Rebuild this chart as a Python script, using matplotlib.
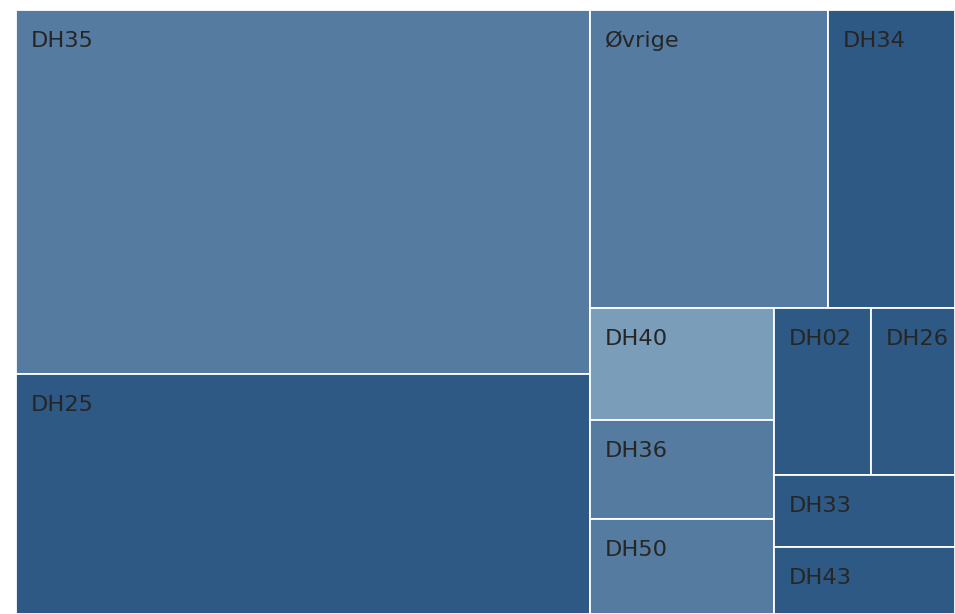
import matplotlib
matplotlib.use("Agg")
import matplotlib.pyplot as plt
from matplotlib.patches import Rectangle

# Data (relative areas)
labels = ["DH35", "DH25", "Øvrige", "DH34", "DH40", "DH36", "DH50",
          "DH02", "DH26", "DH33", "DH43"]
values = [209000, 137353, 70954, 37634, 20644, 18167, 17433,
          16248, 14154, 13068, 12070]
colors = ["#557ca0", "#2e5984", "#557ca0", "#2e5984", "#7a9db9", "#557ca0",
          "#557ca0", "#2e5984", "#2e5984", "#2e5984", "#2e5984"]

PHI = (1 + 5 ** 0.5) / 2


def squarify(vals, x0, y0, x1, y1, ratio=PHI):
    """d3-style squarified treemap; returns list of (x0, y0, x1, y1)."""
    rects = [None] * len(vals)
    order = sorted(range(len(vals)), key=lambda k: -vals[k])
    nodes = [vals[k] for k in order]
    value = float(sum(nodes))
    n = len(nodes)
    i0 = i1 = 0
    while i0 < n:
        dx, dy = x1 - x0, y1 - y0
        sum_v = nodes[i1]
        i1 += 1
        min_v = max_v = sum_v
        alpha = max(dy / dx, dx / dy) / (value * ratio)
        beta = sum_v * sum_v * alpha
        min_ratio = max(max_v / beta, beta / min_v)
        while i1 < n:
            nv = nodes[i1]
            sum_v += nv
            min_v = min(min_v, nv)
            max_v = max(max_v, nv)
            beta = sum_v * sum_v * alpha
            new_ratio = max(max_v / beta, beta / min_v)
            if new_ratio > min_ratio:
                sum_v -= nv
                break
            min_ratio = new_ratio
            i1 += 1
        row = list(range(i0, i1))
        if dx < dy:  # dice: horizontal row on top
            ny = y0 + dy * sum_v / value
            cx = x0
            for j in row:
                w = (x1 - x0) * nodes[j] / sum_v
                rects[order[j]] = (cx, y0, cx + w, ny)
                cx += w
            y0 = ny
        else:  # slice: vertical column on left
            nx = x0 + dx * sum_v / value
            cy = y0
            for j in row:
                h = (y1 - y0) * nodes[j] / sum_v
                rects[order[j]] = (x0, cy, nx, cy + h)
                cy += h
            x0 = nx
        value -= sum_v
        i0 = i1
    return rects


W, H = 939.0, 604.0
fig = plt.figure(figsize=(9.55, 6.14), dpi=100)
ax = fig.add_axes([16 / 955, 0, 939 / 955, 604 / 614])
ax.set_xlim(0, W)
ax.set_ylim(H, 0)
ax.axis("off")

rects = squarify(values, 0, 0, W, H)
for lab, col, (rx0, ry0, rx1, ry1) in zip(labels, colors, rects):
    ax.add_patch(Rectangle((rx0, ry0), rx1 - rx0, ry1 - ry0,
                           facecolor=col, edgecolor="white", linewidth=1.3))
    ax.annotate(lab, xy=(rx0, ry0), xytext=(10.6, -26.6),
                textcoords="offset points", ha="left", va="baseline",
                fontsize=16.2, color="#262626", family="DejaVu Sans",
                annotation_clip=False)

fig.savefig("out.png", dpi=100)
